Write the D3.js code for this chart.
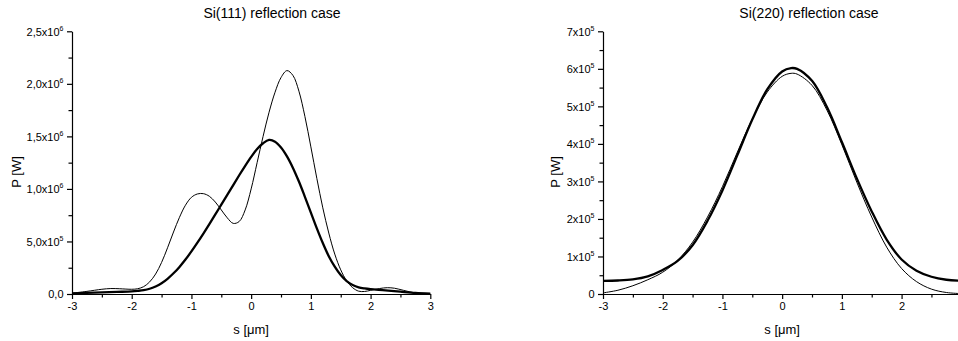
<!DOCTYPE html>
<html>
<head>
<meta charset="utf-8">
<script src="https://cdn.jsdelivr.net/npm/d3@7"></script>
<style>
  html, body { margin: 0; padding: 0; background: #fff; overflow: hidden; }
  svg { display: block; font-family: "Liberation Sans", Arial, sans-serif; }
</style>
</head>
<body>
<svg id="chart" width="958" height="341"></svg>
<script>
// ---- Si(111): beam power profile, P in units of 1e6 W ----
const s111Thin = [-3, -2.75, -2.5, -2.35, -2.2, -2.0, -1.9, -1.8, -1.7, -1.6, -1.5, -1.4, -1.3, -1.2, -1.1, -1.0,
  -0.9, -0.8, -0.7, -0.6, -0.5, -0.4, -0.3, -0.2, -0.1, 0, 0.1, 0.2, 0.3, 0.4, 0.5, 0.6, 0.7, 0.8, 0.9, 1.0,
  1.1, 1.2, 1.3, 1.4, 1.5, 1.6, 1.7, 1.8, 1.9, 2.0, 2.15, 2.28, 2.4, 2.55, 2.75, 3.0];
const p111Thin = [0.008, 0.025, 0.045, 0.052, 0.05, 0.045, 0.05, 0.07, 0.115, 0.19, 0.30, 0.44, 0.59, 0.73, 0.845, 0.92,
  0.952, 0.955, 0.93, 0.875, 0.80, 0.725, 0.672, 0.69, 0.80, 1.0, 1.25, 1.5, 1.73, 1.92, 2.06, 2.126, 2.08, 1.93, 1.69, 1.40,
  1.10, 0.82, 0.58, 0.38, 0.23, 0.125, 0.06, 0.027, 0.024, 0.035, 0.052, 0.06, 0.055, 0.035, 0.01, 0.002];

const s111Thick = [-3, -2.75, -2.5, -2.25, -2.0, -1.9, -1.8, -1.7, -1.6, -1.5, -1.4, -1.3, -1.2, -1.1, -1.0, -0.9, -0.8,
  -0.7, -0.6, -0.5, -0.4, -0.3, -0.2, -0.1, 0, 0.1, 0.2, 0.3, 0.4, 0.5, 0.6, 0.7, 0.8, 0.9, 1.0, 1.1, 1.2, 1.3,
  1.4, 1.5, 1.6, 1.7, 1.8, 1.9, 2.0, 2.25, 2.5, 2.75, 3.0];
const p111Thick = [0.005, 0.010, 0.015, 0.020, 0.025, 0.030, 0.037, 0.050, 0.072, 0.103, 0.145, 0.197, 0.258, 0.328, 0.405, 0.488, 0.575,
  0.665, 0.757, 0.85, 0.943, 1.037, 1.13, 1.22, 1.305, 1.38, 1.435, 1.466, 1.45, 1.395, 1.31, 1.20, 1.07, 0.925, 0.775, 0.625, 0.485, 0.36,
  0.26, 0.18, 0.122, 0.086, 0.064, 0.053, 0.046, 0.035, 0.022, 0.010, 0.004];

const yTicks111 = [0, 0.5, 1.0, 1.5, 2.0, 2.5];
const yLabels111 = [["0,0", ""], ["5,0x10", "5"], ["1,0x10", "6"], ["1,5x10", "6"], ["2,0x10", "6"], ["2,5x10", "6"]];

// ---- Si(220): beam power profile, P in units of 1e5 W ----
const s220 = [-3, -2.75, -2.5, -2.25, -2, -1.75, -1.5, -1.25, -1, -0.75, -0.5, -0.25, 0, 0.15, 0.25,
  0.5, 0.75, 1, 1.25, 1.5, 1.75, 2, 2.25, 2.5, 2.75, 3];
const p220Thick = [0.35, 0.36, 0.39, 0.47, 0.64, 0.88, 1.30, 1.95, 2.76, 3.70, 4.65, 5.45, 5.93, 6.02, 6.00,
  5.68, 4.98, 4.05, 3.08, 2.20, 1.45, 0.92, 0.62, 0.46, 0.38, 0.35];
const p220Thin = [0.03, 0.10, 0.22, 0.38, 0.58, 0.90, 1.38, 2.05, 2.86, 3.78, 4.66, 5.38, 5.80, 5.88, 5.86,
  5.56, 4.90, 3.98, 2.98, 2.05, 1.25, 0.68, 0.33, 0.13, 0.04, 0.01];

const yTicks220 = [0, 1, 2, 3, 4, 5, 6, 7];
const yLabels220 = [["0", ""], ["1x10", "5"], ["2x10", "5"], ["3x10", "5"], ["4x10", "5"], ["5x10", "5"], ["6x10", "5"], ["7x10", "5"]];

const xTicks111 = [-3, -2, -1, 0, 1, 2, 3];
const xTicks220 = [-3, -2, -1, 0, 1, 2];
const xMinor = [-2.5, -1.5, -0.5, 0.5, 1.5, 2.5];

const svg = d3.select("#chart");

function panel(cfg) {
  const g = svg.append("g");
  const x = d3.scaleLinear().domain([-3, 3]).range([cfg.left, cfg.right]);
  const y = d3.scaleLinear().domain([0, cfg.yMax]).range([294, 31.3]);

  // minor ticks
  g.append("g").attr("transform", `translate(${cfg.left},0)`)
    .call(d3.axisLeft(y).tickValues(cfg.yMinor).tickSize(3.5).tickSizeOuter(0).tickFormat(""))
    .call(a => a.select(".domain").remove());
  g.append("g").attr("transform", "translate(0,294)")
    .call(d3.axisBottom(x).tickValues(xMinor).tickSize(3.5).tickSizeOuter(0).tickFormat(""))
    .call(a => a.select(".domain").remove());

  // y axis with superscript exponents
  const ya = g.append("g").attr("transform", `translate(${cfg.left},0)`)
    .call(d3.axisLeft(y).tickValues(cfg.yTicks).tickSize(5).tickSizeOuter(0).tickFormat(""));
  ya.selectAll(".tick").each(function (d, i) {
    const lab = cfg.yLabels[i];
    const t = d3.select(this).append("text")
      .attr("x", -8.5).attr("dy", "0.36em")
      .attr("fill", "#000").attr("text-anchor", "end")
      .style("font-size", "11px");
    t.append("tspan").text(lab[0]);
    if (lab[1]) t.append("tspan").attr("dy", "-5").style("font-size", "7px").text(lab[1]);
  });

  // x axis
  g.append("g").attr("transform", "translate(0,294)")
    .call(d3.axisBottom(x).tickValues(cfg.xTicks).tickSize(5).tickSizeOuter(0).tickPadding(3).tickFormat(d => String(d)))
    .call(a => a.selectAll("text").attr("fill", "#000").style("font-size", "11px").style("font-family", "Liberation Sans, Arial, sans-serif"));

  g.selectAll(".domain, .tick line").attr("stroke", "#000").attr("stroke-width", 1.2);

  // curves
  const line = (ss) => d3.line().x((d, i) => x(ss[i])).y(d => y(d)).curve(d3.curveCatmullRom.alpha(0.5));
  g.append("path").datum(cfg.thinP).attr("d", line(cfg.thinS))
    .attr("fill", "none").attr("stroke", "#000").attr("stroke-width", 1);
  g.append("path").datum(cfg.thickP).attr("d", line(cfg.thickS))
    .attr("fill", "none").attr("stroke", "#000").attr("stroke-width", 2.3);

  // labels
  g.append("text").attr("x", cfg.titleX).attr("y", 18).attr("text-anchor", "middle")
    .style("font-size", "14px").text(cfg.title);
  g.append("text").attr("x", (cfg.left + cfg.right) / 2).attr("y", 334).attr("text-anchor", "middle")
    .style("font-size", "13px").text("s [μm]");
  g.append("text").attr("transform", `translate(${cfg.yLabX},172) rotate(-90)`)
    .attr("text-anchor", "middle").style("font-size", "13px").text("P [W]");
}

panel({
  left: 72, right: 430.3, yMax: 2.5,
  yTicks: yTicks111, yLabels: yLabels111, xTicks: xTicks111,
  yMinor: [0.25, 0.75, 1.25, 1.75, 2.25],
  thinS: s111Thin, thinP: p111Thin, thickS: s111Thick, thickP: p111Thick,
  title: "Si(111) reflection case", titleX: 272, yLabX: 20.5
});

panel({
  left: 603, right: 961.3, yMax: 7,
  yTicks: yTicks220, yLabels: yLabels220, xTicks: xTicks220,
  yMinor: [0.5, 1.5, 2.5, 3.5, 4.5, 5.5, 6.5],
  thinS: s220, thinP: p220Thin, thickS: s220, thickP: p220Thick,
  title: "Si(220) reflection case", titleX: 809, yLabX: 559.5
});
</script>
</body>
</html>
